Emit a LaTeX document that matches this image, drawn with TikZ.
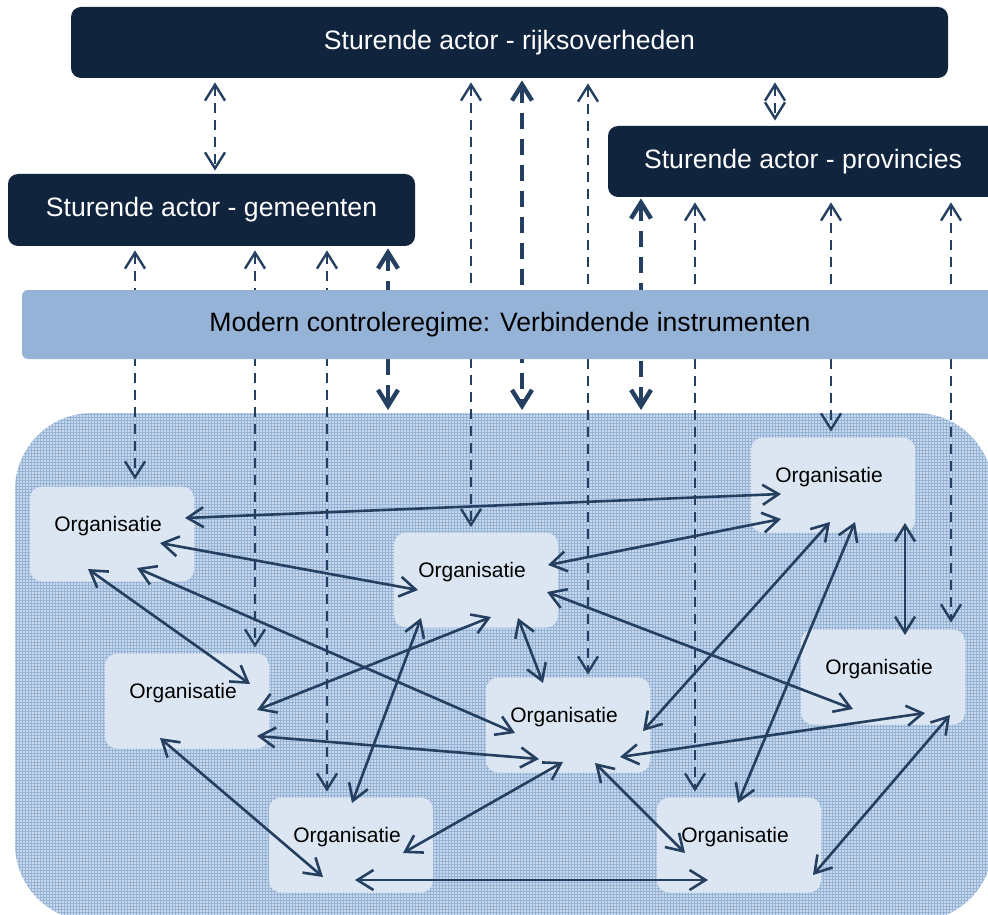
\documentclass[tikz,border=0pt]{standalone}
\usepackage{fontspec}
\setmainfont{Liberation Sans}
\usepackage{tikz}
\usetikzlibrary{arrows.meta,patterns}

\definecolor{donkerblauw}{HTML}{10243E}
\definecolor{pijlblauw}{HTML}{243F60}
\definecolor{balkblauw}{HTML}{95B3D7}
\definecolor{vlakblauw}{HTML}{DCE6F2}

\pgfdeclarepatternformonly{fijnstip}{\pgfqpoint{-0.75pt}{-0.75pt}}{\pgfqpoint{0.75pt}{0.75pt}}{\pgfqpoint{1.5pt}{1.5pt}}{\pgfpathcircle{\pgforigin}{0.45pt}\pgfusepath{fill}}

\tikzset{
  actor/.style={fill=donkerblauw, text=white, rounded corners=5pt, inner sep=0pt, font=\fontsize{13.3}{16}\selectfont},
  org/.style={fill=vlakblauw, rounded corners=6pt, inner sep=0pt, minimum width=82pt, minimum height=47.5pt,
    label={[xshift=-2pt, yshift=4pt, font=\fontsize{10.5}{12}\selectfont]center:Organisatie}},
  link/.style={draw=pijlblauw, line width=1.3pt, {Straight Barb[length=8pt,width=10pt]}-{Straight Barb[length=8pt,width=10pt]}},
  stuur/.style={link, line width=1.2pt, dash pattern=on 5pt off 3.5pt},
  stuurdik/.style={link, line width=2.2pt, dash pattern=on 8pt off 5pt},
}

\begin{document}
\begin{tikzpicture}[x=0.5pt, y=-0.5pt]
            \clip (0,0) rectangle (988,914);

            % Achtergrond (netwerk)
            \fill[balkblauw, rounded corners=38.5pt] (15,413) rectangle (993,921);
            \fill[pattern=fijnstip, pattern color=white, rounded corners=38.5pt] (15,413) rectangle (993,921);

            % Sturende actoren
            \node[actor, minimum width=438.5pt, minimum height=35.5pt] (rijk) at (509.5,42.5) {Sturende actor - rijksoverheden};
            \node[actor, minimum width=195pt, minimum height=35.5pt] (prov) at (803,161.5) {Sturende actor - provincies};
            \node[actor, minimum width=203.5pt, minimum height=36pt] (gem) at (211.5,210) {Sturende actor - gemeenten};

            % Organisaties
            \node[org] (org1) at (112,534) {};
            \node[org] (org2) at (476,580) {};
            \node[org] (org3) at (833,485) {};
            \node[org] (org4) at (187,701) {};
            \node[org] (org5) at (568,725) {};
            \node[org] (org6) at (883,677) {};
            \node[org] (org7) at (351,845) {};
            \node[org] (org8) at (739,845) {};

            % Vrije eindpunten van de dikke pijlen
            \coordinate (gemvrij) at (388,410);
            \coordinate (rijkvrij) at (522,410);
            \coordinate (provvrij) at (641,410);

            % Sturing (gestreept)
            \draw[stuur] ([shift={(-294.5,4)}]rijk.south) -- ([shift={(3.5,-3)}]gem.north);
            \draw[stuur] ([shift={(265.5,4)}]rijk.south) -- ([shift={(-28,-5)}]prov.north);
            \draw[stuur] ([shift={(-38.5,4)}]rijk.south) -- ([shift={(-5,-5)}]org2.north);
            \draw[stuurdik] ([shift={(12.5,2)}]rijk.south) -- (rijkvrij);
            \draw[stuur] ([shift={(78.5,5)}]rijk.south) -- ([shift={(20,-2.5)}]org5.north);
            \draw[stuur] ([shift={(-76.5,4)}]gem.south) -- ([shift={(23,-6.5)}]org1.north);
            \draw[stuur] ([shift={(43.5,4)}]gem.south) -- ([shift={(68,-5.5)}]org4.north);
            \draw[stuur] ([shift={(115.5,4)}]gem.south) -- ([shift={(-24,-5.5)}]org7.north);
            \draw[stuurdik] ([shift={(176.5,2)}]gem.south) -- (gemvrij);
            \draw[stuurdik] ([shift={(-162,1)}]prov.south) -- (provvrij);
            \draw[stuur] ([shift={(-108,5)}]prov.south) -- ([shift={(-44,-5.5)}]org8.north);
            \draw[stuur] ([shift={(28,5)}]prov.south) -- ([shift={(-2,-5.5)}]org3.north);
            \draw[stuur] ([shift={(148,5)}]prov.south) -- ([shift={(68,-6.5)}]org6.north);

            % Controleregime
            \node[fill=balkblauw, rounded corners=3pt, inner sep=0pt, minimum width=488pt, minimum height=34.5pt,
              font=\fontsize{13.3}{16}\selectfont] (regime) at (510,324.5) {Modern controleregime: Verbindende instrumenten};

            % Relaties tussen organisaties
            \draw[link] ([shift={(73,-16)}]org1.center) -- ([shift={(-52,9)}]org3.center);
            \draw[link] ([shift={(48,9)}]org1.center) -- ([shift={(-58,10)}]org2.center);
            \draw[link] ([shift={(-24,35)}]org1.center) -- ([shift={(63,-17)}]org4.center);
            \draw[link] ([shift={(25,34)}]org1.center) -- ([shift={(-53,8)}]org5.center);
            \draw[link] ([shift={(70,9)}]org4.center) -- ([shift={(15,37)}]org2.center);
            \draw[link] ([shift={(70,35)}]org4.center) -- ([shift={(-29,34)}]org5.center);
            \draw[link] ([shift={(-27,37)}]org4.center) -- ([shift={(-28,32)}]org7.center);
            \draw[link] ([shift={(1,-42)}]org7.center) -- ([shift={(-55,38)}]org2.center);
            \draw[link] ([shift={(52,8)}]org7.center) -- ([shift={(-5,37)}]org5.center);
            \draw[link] ([shift={(4,35)}]org7.center) -- ([shift={(-31,35)}]org8.center);
            \draw[link] ([shift={(42,38)}]org2.center) -- ([shift={(-25,-42)}]org5.center);
            \draw[link] ([shift={(72,-15)}]org2.center) -- ([shift={(-52,34)}]org3.center);
            \draw[link] ([shift={(71,12)}]org2.center) -- ([shift={(-30,32)}]org6.center);
            \draw[link] ([shift={(75,6)}]org5.center) -- ([shift={(-3,37)}]org3.center);
            \draw[link] ([shift={(-1,-42)}]org8.center) -- ([shift={(22,37)}]org3.center);
            \draw[link] ([shift={(52,32)}]org5.center) -- ([shift={(42,36)}]org6.center);
            \draw[link] ([shift={(27,38)}]org5.center) -- ([shift={(-54,8)}]org8.center);
            \draw[link] ([shift={(74,30)}]org8.center) -- ([shift={(67,38)}]org6.center);
            \draw[link] ([shift={(72,38)}]org3.center) -- ([shift={(22,-42)}]org6.center);
\end{tikzpicture}
\end{document}
